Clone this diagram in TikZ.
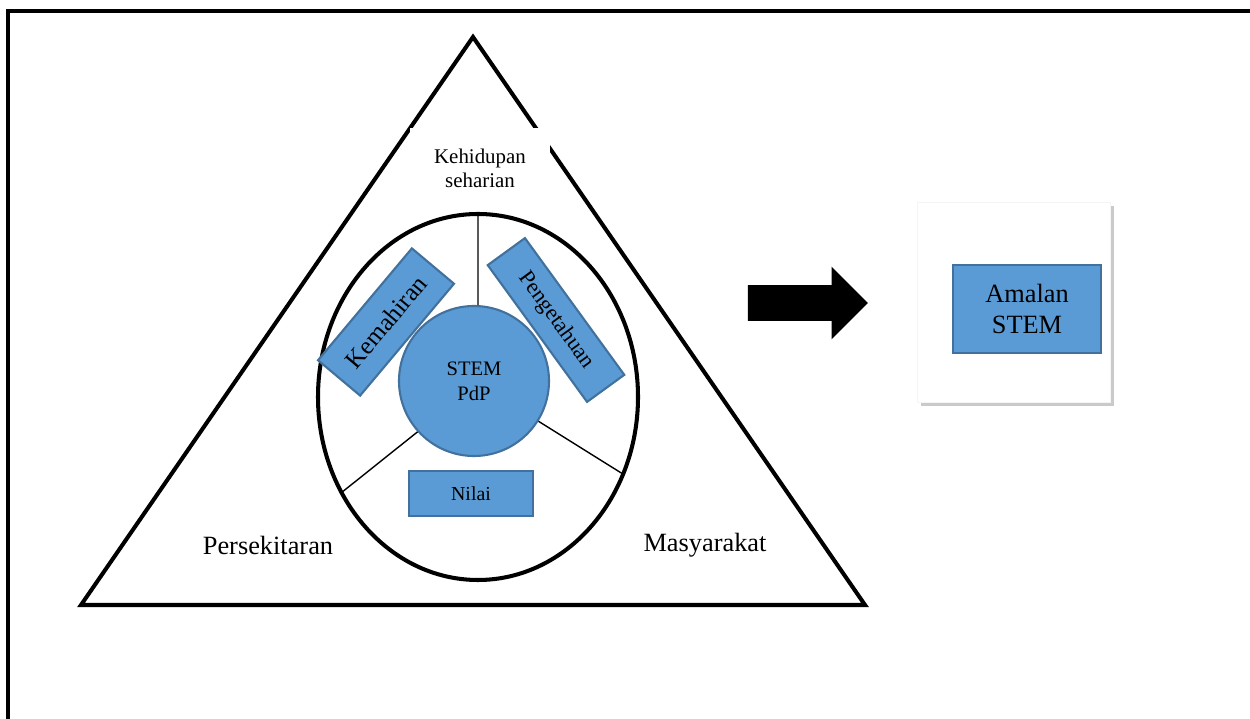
\documentclass[tikz,border=0pt]{standalone}
\usepackage{fontspec}
\setmainfont{Liberation Serif}
\usepackage{xcolor}
\definecolor{StemBlue}{HTML}{5B9BD5}
\definecolor{StemEdge}{HTML}{41719C}
\usepackage{tikz}
\usetikzlibrary{shapes.geometric, shapes.arrows, positioning, shadows}
\tikzset{
  % Box styles
  stembox/.style={rectangle, draw=StemEdge, line width=1.2pt, fill=StemBlue, inner sep=0pt, align=center},
  hubnode/.style={circle, draw=StemEdge, line width=1.2pt, fill=StemBlue, minimum size=3cm, align=center, font=\fontsize{11.7}{14}\selectfont},
  ringnode/.style={ellipse, draw=black, line width=2.3pt, minimum width=6.4cm, minimum height=7.32cm, outer sep=0pt},
  panelbox/.style={rectangle, fill=white, draw=gray!8, minimum width=3.86cm, minimum height=4cm, drop shadow={shadow xshift=0.08cm, shadow yshift=-0.08cm, fill=gray!70, opacity=0.6}},
  % Text styles
  cornertext/.style={font=\fontsize{15}{18}\selectfont},
  % Line styles
  boldline/.style={line width=2.3pt, black},
  divider/.style={line width=0.8pt, black},
  bigarrow/.style={single arrow, fill=black, inner xsep=0pt, inner ysep=0.35cm, minimum height=2.4cm, single arrow head extend=0.37cm}
}
\begin{document}
\begin{tikzpicture}
  \useasboundingbox (0,0) rectangle (25,14.38);

  % Page frame
  \draw[line width=2.3pt] (0.16,0) -- (0.16,14.156) -- (25,14.156);

  % Triangle
  \draw[boldline] (9.46,13.64) -- (1.62,2.28) -- (17.30,2.28) -- cycle;
  \node[fill=white, minimum width=2.8cm, minimum height=1.6cm, align=center, font=\fontsize{11.9}{13.5}\selectfont] (life) at (9.6,11.02) {Kehidupan\\seharian};
  \node[cornertext] (surround) at (5.36,3.48) {Persekitaran};
  \node[cornertext] (society) at (14.1,3.48) {Masyarakat};

  % Ring and hub
  \node[ringnode] (ring) at (9.56,6.44) {};
  \node[hubnode] (hub) at (9.48,6.76) {STEM\\PdP};
  \draw[divider] (hub.87) -- (ring.90);
  \draw[divider] (hub.222) -- (ring.215);
  \draw[divider] (hub.-32) -- (ring.-28);

  % Domains
  \node[stembox, rotate=50, minimum width=2.92cm, minimum height=1.1cm, font=\fontsize{14.3}{16}\selectfont] (skill) at (7.72,7.94) {Kemahiran};
  \node[stembox, rotate=-54, minimum width=3.38cm, minimum height=0.92cm, font=\fontsize{12.7}{15}\selectfont] (know) at (11.12,7.98) {Pengetahuan};
  \node[stembox, minimum width=2.48cm, minimum height=0.9cm, font=\fontsize{11.3}{13}\selectfont] (value) at (9.42,4.51) {Nilai};

  % Outcome
  \node[bigarrow] (flow) at (15.98,8.32) {};
  \node[panelbox] (panel) at (20.27,8.34) {};
  \node[stembox, minimum width=2.96cm, minimum height=1.76cm, font=\fontsize{15}{18}\selectfont] (practice) at (20.54,8.2) {Amalan\\STEM};
\end{tikzpicture}
\end{document}
